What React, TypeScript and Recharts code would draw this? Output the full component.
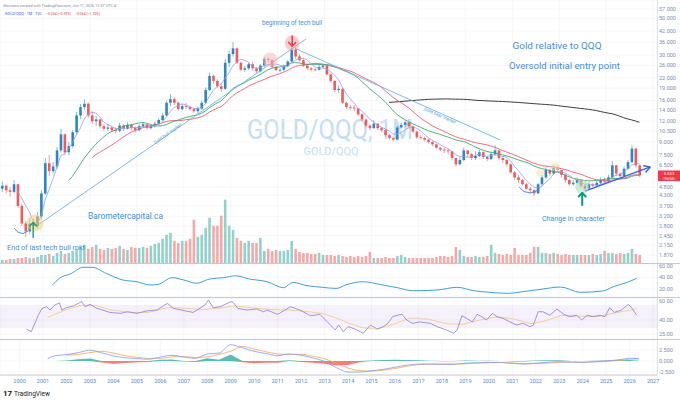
import React from "react";
import {
  ComposedChart,
  Bar,
  Line,
  Area,
  XAxis,
  YAxis,
  CartesianGrid,
  ReferenceLine,
  ReferenceDot,
  ReferenceArea,
  Cell,
} from "recharts";

// GOLD/QQQ, two-month candles. First slot = Mar-Apr 1999, last = May-Jun 2026.
const START = 1999 + 2 / 12;
const FIRST_OPEN = 4.7;

// closes, one row per year
const closes = [
  4.9, 4.6, 4.5, 5.0, 3.7,
  2.9, 2.6, 2.9, 2.8, 3.2, 4.4,
  6.7, 6.0, 6.4, 8.0, 10.0, 7.8,
  8.5, 10.3, 13.0, 14.6, 15.3, 13.0,
  12.0, 12.3, 11.2, 10.8, 11.0, 10.6,
  10.5, 11.3, 10.8, 11.4, 10.9, 10.6,
  11.2, 11.5, 10.9, 11.2, 11.6, 12.2,
  13.0, 15.5, 16.3, 15.5, 14.2, 14.8,
  14.6, 14.2, 13.8, 14.3, 15.5, 18.5,
  22.5, 21.0, 19.5, 18.8, 27.0, 30.5,
  33.0, 27.0, 24.5, 25.0, 26.5, 25.0,
  24.0, 26.0, 28.5, 28.0, 25.5, 24.4,
  24.5, 25.8, 27.5, 32.5, 29.5, 28.0,
  26.0, 25.0, 24.6, 24.5, 25.5, 26.0,
  23.0, 21.0, 18.5, 18.8, 15.5, 14.6,
  14.5, 14.3, 13.2, 12.3, 11.3, 10.9,
  11.6, 10.9, 10.6, 9.9, 9.5, 9.3,
  11.0, 11.4, 11.8, 11.2, 10.4, 9.6,
  9.5, 9.3, 9.0, 8.7, 8.3, 8.1,
  8.0, 7.9, 7.2, 6.6, 7.0, 8.0,
  7.6, 7.2, 7.4, 7.8, 7.3, 7.1,
  7.6, 8.0, 7.2, 7.0, 6.6, 5.9,
  5.5, 5.3, 5.0, 4.7, 4.6, 4.4,
  5.0, 5.5, 6.1, 5.8, 6.3, 6.1,
  5.7, 5.3, 5.0, 5.1, 5.3, 4.9,
  4.7, 5.0, 4.9, 5.1, 5.3, 5.2,
  5.5, 6.5, 5.8, 5.6, 6.2, 6.8,
  8.2, 6.5, 5.65,
];

const highs = [
  5.2, 5.0, 4.8, 5.3, 5.0,
  3.8, 3.0, 3.1, 3.1, 3.4, 4.6,
  7.2, 7.5, 6.8, 8.4, 10.8, 10.1,
  9.0, 10.6, 13.6, 15.2, 16.2, 15.6,
  13.8, 12.9, 12.4, 11.5, 11.6, 11.3,
  11.0, 11.7, 11.5, 11.8, 11.6, 11.1,
  11.5, 11.9, 11.6, 11.4, 11.9, 12.5,
  13.5, 16.0, 17.5, 16.8, 15.8, 15.2,
  15.5, 14.9, 14.5, 14.7, 16.0, 19.2,
  23.5, 23.0, 21.5, 20.0, 28.5, 32.0,
  36.0, 33.5, 27.5, 25.8, 27.3, 27.5,
  25.5, 26.5, 29.3, 29.0, 28.3, 25.8,
  25.0, 26.3, 28.0, 34.0, 33.5, 30.5,
  28.5, 26.2, 25.5, 25.2, 26.3, 26.5,
  26.2, 23.3, 21.2, 19.8, 19.0, 15.8,
  15.0, 15.0, 14.4, 13.4, 12.4, 11.5,
  12.2, 11.7, 11.1, 10.7, 10.1, 9.7,
  11.3, 11.8, 12.2, 12.0, 11.3, 10.5,
  9.9, 9.7, 9.4, 9.1, 8.8, 8.4,
  8.3, 8.2, 7.9, 7.2, 7.3, 8.3,
  8.0, 7.7, 7.9, 8.1, 7.9, 7.4,
  7.9, 8.6, 8.0, 7.4, 7.1, 6.7,
  6.0, 5.7, 5.4, 5.1, 4.8, 4.7,
  5.1, 5.7, 6.3, 6.2, 6.5, 6.5,
  6.1, 5.8, 5.4, 5.3, 5.5, 5.4,
  5.0, 5.2, 5.1, 5.3, 5.5, 5.5,
  5.7, 6.9, 6.5, 5.9, 6.4, 7.0,
  8.6, 8.3, 6.6,
];

const lows = [
  4.5, 4.4, 4.2, 4.4, 3.6,
  2.8, 2.4, 2.5, 2.7, 2.7, 3.1,
  4.3, 5.6, 5.8, 6.2, 7.8, 7.5,
  7.5, 8.3, 10.0, 12.4, 14.0, 12.6,
  11.6, 11.2, 10.9, 10.5, 10.5, 10.3,
  10.1, 10.3, 10.5, 10.7, 10.6, 10.3,
  10.4, 11.0, 10.7, 10.7, 11.0, 11.3,
  12.0, 12.8, 14.8, 15.0, 13.9, 14.0,
  14.2, 13.9, 13.5, 13.4, 14.0, 15.3,
  18.2, 20.2, 19.0, 18.0, 18.5, 25.5,
  29.5, 26.5, 24.0, 23.8, 24.5, 24.3,
  23.5, 23.6, 25.5, 27.0, 25.0, 24.0,
  23.8, 24.2, 25.5, 27.0, 28.5, 27.5,
  25.5, 24.5, 24.0, 24.0, 24.3, 25.0,
  22.6, 20.5, 18.0, 17.8, 15.2, 14.2,
  14.0, 13.8, 12.9, 12.0, 11.0, 10.6,
  10.8, 10.6, 10.3, 9.7, 9.3, 9.1,
  9.2, 10.8, 11.0, 11.0, 10.2, 9.4,
  9.3, 9.1, 8.8, 8.5, 8.2, 7.9,
  7.7, 7.6, 7.0, 6.4, 6.5, 6.9,
  7.3, 7.0, 7.0, 7.3, 7.1, 6.9,
  7.0, 7.4, 7.0, 6.7, 6.4, 5.8,
  5.3, 5.1, 4.9, 4.6, 4.4, 4.25,
  4.4, 4.9, 5.4, 5.6, 5.7, 5.9,
  5.5, 5.1, 4.9, 4.9, 5.0, 4.8,
  4.55, 4.6, 4.8, 4.8, 5.0, 5.0,
  5.1, 5.4, 5.6, 5.4, 5.5, 6.1,
  6.7, 6.3, 5.5,
];

// relative volume
const volumes = [
  3, 3, 4, 4, 5,
  5, 6, 5, 5, 6, 8,
  8, 9, 7, 10, 12, 9,
  10, 12, 14, 16, 18, 14,
  16, 18, 14, 13, 15, 14,
  15, 17, 14, 13, 16, 15,
  15, 16, 15, 17, 19, 20,
  24, 28, 30, 22, 20, 22,
  22, 24, 43, 26, 28, 35,
  45, 37, 37, 47, 63, 37,
  33, 25, 22, 20, 22, 20,
  20, 25, 12, 14, 12, 13,
  12, 12, 13, 22, 14, 11,
  10, 10, 9, 9, 10, 8,
  8, 8, 7, 8, 7, 6,
  7, 6, 7, 6, 7, 11,
  5, 5, 5, 6, 5, 5,
  7, 8, 6, 5, 5, 5,
  5, 5, 5, 5, 6, 7,
  7, 6, 7, 16, 13, 7,
  6, 6, 7, 6, 6, 7,
  18, 10, 9, 8, 9, 8,
  15, 8, 8, 8, 10, 16,
  16, 10, 10, 9, 10, 9,
  8, 9, 8, 8, 8, 8,
  8, 8, 9, 8, 9, 12,
  10, 10, 9, 10, 9, 10,
  14, 9, 8,
];

// upper oscillator pane
const oscYears = [
  2001.4, 2001.7, 2002.2, 2002.7, 2003.1, 2003.7, 2004.4, 2005.0, 2005.55, 2005.9,
  2006.5, 2007.0, 2007.55, 2008.1, 2008.7, 2009.2, 2009.8, 2010.55, 2011.25, 2011.65,
  2012.25, 2012.9, 2013.5, 2013.9, 2014.65, 2015.35, 2016.1, 2016.75, 2017.8, 2018.65,
  2019.35, 2020.05, 2020.8, 2021.45, 2022.3, 2023.05, 2023.9, 2024.85, 2025.3, 2025.9,
  2026.3,
];
const oscValues = [
  27, 38.6, 47, 57.7, 57.7, 47, 35.7, 32.7, 27, 28,
  39.7, 35.7, 30, 37.4, 39.7, 43, 37.4, 32.7, 22.3, 31.6,
  25.8, 23, 21, 27, 32.7, 28, 22.3, 17, 18.3, 23,
  17, 14.2, 12.5, 15.3, 20, 23.5, 14.2, 16.5, 24, 31.6,
  38.6,
];

// RSI pane
const rsiYears = [
  2000.3, 2000.5, 2000.65, 2000.8, 2000.95, 2001.15, 2001.3, 2001.5, 2001.7, 2001.8,
  2002.0, 2002.3, 2002.65, 2002.8, 2003.0, 2003.3, 2003.55, 2003.85, 2004.3, 2004.6,
  2005.0, 2005.4, 2005.85, 2006.3, 2006.55, 2006.9, 2007.4, 2007.9, 2008.05, 2008.25,
  2008.55, 2009.0, 2009.1, 2009.3, 2009.7, 2010.1, 2010.4, 2010.55, 2011.0, 2011.55,
  2011.95, 2012.4, 2012.8, 2013.25, 2013.45, 2013.6, 2013.8, 2014.0, 2014.3, 2014.65,
  2014.95, 2015.25, 2015.5, 2015.7, 2015.9, 2016.1, 2016.3, 2016.5, 2016.75, 2017.05,
  2017.5, 2017.8, 2018.2, 2018.5, 2018.65, 2018.85, 2019.05, 2019.3, 2019.5, 2019.7,
  2019.9, 2020.15, 2020.35, 2020.6, 2020.9, 2021.2, 2021.45, 2021.75, 2021.9, 2022.1,
  2022.3, 2022.6, 2022.9, 2023.2, 2023.45, 2023.75, 2023.95, 2024.2, 2024.45, 2024.75,
  2024.95, 2025.15, 2025.35, 2025.65, 2025.95, 2026.1, 2026.3,
];
const rsiValues = [
  30.5, 27.7, 36.5, 45, 52, 54, 50.5, 55.8, 58, 50.5,
  53, 55, 59.3, 54, 56.5, 52.3, 50.5, 48, 47, 48.7,
  47, 49.5, 50.5, 57.6, 52.3, 50.5, 48, 55.8, 61, 53,
  54, 59.3, 58.6, 52.3, 50.5, 51.6, 48.7, 50.5, 46, 54,
  50.5, 44.5, 46, 34.7, 29.5, 34.7, 27.7, 33, 30.5, 26,
  34.7, 30.5, 33, 36.5, 43.5, 45, 46, 40, 36.5, 38,
  36.5, 33, 29.5, 26, 29.5, 44.5, 41.8, 38, 46, 43.5,
  40, 47, 43.5, 41.8, 38, 34.7, 36.5, 33, 34.7, 48.7,
  48.7, 45, 51.6, 46, 43.5, 45, 40, 45, 43.5, 45,
  43.5, 53, 48, 50.5, 56.5, 52.3, 45,
];
const rsiSigYears = [
  2001.2, 2001.9, 2002.6, 2003.3, 2003.9, 2004.8, 2005.5, 2006.3, 2007.0, 2007.8,
  2008.5, 2009.2, 2010.0, 2010.8, 2011.5, 2012.2, 2012.9, 2013.4, 2014.0, 2014.6,
  2015.2, 2015.9, 2016.6, 2017.4, 2018.2, 2018.9, 2019.6, 2020.3, 2021.0, 2021.8,
  2022.4, 2023.1, 2023.9, 2024.7, 2025.4, 2026.3,
];
const rsiSigValues = [
  43, 50, 55.5, 55, 50.5, 48, 48, 53, 52.5, 51,
  52.5, 55, 52.5, 51, 50.5, 49, 47, 43, 37, 32,
  30.5, 35, 42, 41, 36, 35.5, 40, 43, 41.5, 36,
  39, 45, 44, 44, 47.5, 52,
];

// MACD pane, half-year steps
const macdYears = [
  2001.2, 2001.5, 2002, 2002.5, 2003, 2003.5, 2004, 2004.5, 2005, 2005.5,
  2006, 2006.5, 2007, 2007.5, 2008, 2008.5, 2009, 2009.5, 2010, 2010.5,
  2011, 2011.5, 2012, 2012.5, 2013, 2013.5, 2014, 2014.5, 2015, 2015.5,
  2016, 2016.5, 2017, 2017.5, 2018, 2018.5, 2019, 2019.5, 2020, 2020.5,
  2021, 2021.5, 2022, 2022.5, 2023, 2023.5, 2024, 2024.5, 2025, 2025.5,
  2026, 2026.4,
];
const macdValues = [
  0.5, 1.2, 1.45, 1.9, 2.45, 1.85, 1.15, 0.75, 0.55, 0.4,
  0.9, 1.3, 0.9, 0.6, 1.6, 1.8, 3.7, 3.0, 2.2, 1.7,
  1.2, 1.6, 1.3, 0.7, -0.1, -1.5, -2.5, -2.5, -2.2, -1.9,
  -1.4, -0.95, -0.7, -0.68, -0.75, -0.75, -0.5, -0.4, -0.3, -0.35,
  -0.55, -0.7, -0.5, -0.3, -0.15, -0.25, -0.3, -0.15, 0.0, 0.25,
  0.6, 0.55,
];
const macdSignal = [
  null, null, 1.35, 1.5, 1.9, 2.2, 1.8, 1.2, 0.85, 0.6,
  0.6, 0.95, 1.0, 0.8, 0.95, 1.5, 2.2, 3.3, 2.7, 2.1,
  1.6, 1.45, 1.5, 1.1, 0.5, -0.5, -1.6, -2.2, -2.3, -2.1,
  -1.7, -1.2, -0.85, -0.72, -0.7, -0.72, -0.62, -0.48, -0.38, -0.34,
  -0.45, -0.6, -0.6, -0.45, -0.3, -0.25, -0.3, -0.22, -0.1, 0.1,
  0.4, 0.5,
];

const years = [
  2000, 2001, 2002, 2003, 2004, 2005, 2006, 2007, 2008, 2009, 2010, 2011, 2012, 2013,
  2014, 2015, 2016, 2017, 2018, 2019, 2020, 2021, 2022, 2023, 2024, 2025, 2026, 2027,
];
const priceTicks = [
  1.87, 2.15, 2.45, 2.8, 3.2, 3.7, 4.3, 4.8, 6.5, 7.5, 9, 10.5, 12, 14, 16, 19, 22, 26,
  30, 36, 42, 50, 57,
];

const X_DOMAIN: [number, number] = [START, START + 28];
const UP = "#2b86c5";
const DOWN = "#ef5a5a";
const GRID = "#f0f2f7";
const AXIS_TEXT = "#7d8db0";
const NOTE = "#3d8fe0";
const FONT = "Roboto, 'Noto Sans', sans-serif";

function sma(src: number[], n: number) {
  return src.map((_, i) => {
    if (i < n - 1) return null;
    let s = 0;
    for (let k = i - n + 1; k <= i; k++) s += src[k];
    return s / n;
  });
}

const fast = sma(closes, 5);
const ma36 = sma(closes, 18);
const ma48 = sma(closes, 24);
const ma200 = sma(closes, 100);

const candles = closes.map((c, i) => {
  const o = i === 0 ? FIRST_OPEN : closes[i - 1];
  const hi = Math.max(highs[i], o, c);
  const lo = Math.min(lows[i], o, c);
  return {
    t: START + (i + 0.5) / 6,
    open: o,
    close: c,
    high: hi,
    low: lo,
    range: [lo, hi],
    vol: volumes[i],
    up: c >= o,
    fast: fast[i],
    ma36: ma36[i],
    ma48: ma48[i],
    ma200: ma200[i],
  };
});
const volMax = Math.max(...volumes);

const oscData = oscYears.map((t, i) => ({ t, v: oscValues[i] }));
const rsiData = [
  ...rsiYears.map((t, i) => ({ t, rsi: rsiValues[i] })),
  ...rsiSigYears.map((t, i) => ({ t, sig: rsiSigValues[i] })),
].sort((a, b) => a.t - b.t);
const macdData = macdYears.map((t, i) => {
  const s = macdSignal[i];
  const h = s == null ? 0 : macdValues[i] - s;
  return { t, macd: macdValues[i], sig: s, pos: Math.max(h, 0), neg: Math.min(h, 0) };
});

const renderCandle = (props: any) => {
  const { x, y, width, height, payload } = props;
  if (!payload || x == null || y == null) return <g />;
  const top = Math.min(y, y + height);
  const h = Math.abs(height);
  const lh = Math.log(payload.high);
  const ll = Math.log(payload.low);
  const span = lh - ll || 1;
  const yAt = (v: number) => top + ((lh - Math.log(v)) / span) * h;
  const color = payload.up ? UP : DOWN;
  const cx = x + width / 2;
  const yo = yAt(payload.open);
  const yc = yAt(payload.close);
  return (
    <g>
      <line x1={cx} x2={cx} y1={top} y2={top + h} stroke={color} strokeWidth={0.6} />
      <rect x={x} y={Math.min(yo, yc)} width={width} height={Math.max(Math.abs(yo - yc), 0.8)} fill={color} />
    </g>
  );
};

const arrow = (dir: "up" | "down", len: number, color: string, w: number) => (p: any) => {
  const { cx, cy } = p;
  const tip = dir === "up" ? cy - len / 2 : cy + len / 2;
  const back = dir === "up" ? 3.5 : -3.5;
  return (
    <g stroke={color} strokeWidth={w} fill="none" strokeLinecap="round" strokeLinejoin="round">
      <line x1={cx} y1={cy + (dir === "up" ? len / 2 : -len / 2)} x2={cx} y2={tip} />
      <polyline points={`${cx - 3.5},${tip + back} ${cx},${tip} ${cx + 3.5},${tip + back}`} />
    </g>
  );
};

const yTick = { fontSize: 5.5, fill: AXIS_TEXT, fontFamily: FONT };
const zero = { top: 0, right: 0, bottom: 0, left: 0 };

function PriceChart() {
  return (
    <ComposedChart width={680} height={263} data={candles} margin={zero}>
      <CartesianGrid xAxisId="p" yAxisId="p" stroke={GRID} strokeWidth={0.6} />
      <XAxis xAxisId="p" dataKey="t" type="number" domain={X_DOMAIN} ticks={years} allowDataOverflow hide />
      <XAxis xAxisId="v" dataKey="t" type="number" domain={X_DOMAIN} allowDataOverflow hide />
      <YAxis
        yAxisId="p"
        orientation="right"
        width={23}
        scale="log"
        domain={[1.675, 64.6]}
        allowDataOverflow
        ticks={priceTicks}
        interval={0}
        tickFormatter={(v: number) => v.toFixed(3)}
        tick={yTick}
        tickSize={0}
        tickMargin={2}
        axisLine={false}
        tickLine={false}
      />
      <YAxis yAxisId="v" hide domain={[0, volMax * 4.15]} />
      <Bar xAxisId="v" yAxisId="v" dataKey="vol" barSize={2.6} isAnimationActive={false}>
        {candles.map((c, i) => (
          <Cell key={i} fill={c.up ? "#26a69a" : "#ef5350"} fillOpacity={0.5} />
        ))}
      </Bar>
      <Line xAxisId="p" yAxisId="p" dataKey="ma200" stroke="#3b3b3b" strokeWidth={1} dot={false} isAnimationActive={false} />
      <Line xAxisId="p" yAxisId="p" dataKey="ma48" stroke="#ef5b6b" strokeWidth={0.9} dot={false} isAnimationActive={false} />
      <Line xAxisId="p" yAxisId="p" dataKey="ma36" stroke="#3fa672" strokeWidth={0.9} dot={false} isAnimationActive={false} />
      <Line xAxisId="p" yAxisId="p" dataKey="fast" stroke="#949cea" strokeWidth={0.8} dot={false} isAnimationActive={false} />
      <Bar xAxisId="p" yAxisId="p" dataKey="range" barSize={2.6} shape={renderCandle} isAnimationActive={false} />

      {/* drawings */}
      <ReferenceLine xAxisId="p" yAxisId="p" segment={[{ x: 2000.66, y: 2.76 }, { x: 2012.21, y: 37.6 }]} stroke="#5aa9e6" strokeWidth={0.8} />
      <ReferenceLine xAxisId="p" yAxisId="p" segment={[{ x: 2011.74, y: 33.0 }, { x: 2020.49, y: 9.24 }]} stroke="#5aa9e6" strokeWidth={0.8} />
      <ReferenceLine xAxisId="p" yAxisId="p" segment={[{ x: 2024.1, y: 4.55 }, { x: 2026.88, y: 6.36 }]} stroke="#3763e6" strokeWidth={1.4} />
      <ReferenceLine xAxisId="p" yAxisId="p" segment={[{ x: 2026.58, y: 6.46 }, { x: 2026.88, y: 6.36 }]} stroke="#3763e6" strokeWidth={1.4} />
      <ReferenceLine xAxisId="p" yAxisId="p" segment={[{ x: 2026.68, y: 5.89 }, { x: 2026.88, y: 6.36 }]} stroke="#3763e6" strokeWidth={1.4} />
      <ReferenceLine xAxisId="p" yAxisId="p" segment={[{ x: 1999.77, y: 2.72 }, { x: 1999.94, y: 2.56 }]} stroke="#3d7fe0" strokeWidth={0.9} />
      <ReferenceLine xAxisId="p" yAxisId="p" segment={[{ x: 1999.94, y: 2.56 }, { x: 2000.15, y: 2.52 }]} stroke="#3d7fe0" strokeWidth={0.9} />
      <ReferenceLine xAxisId="p" yAxisId="p" segment={[{ x: 2000.15, y: 2.52 }, { x: 2000.36, y: 2.61 }]} stroke="#3d7fe0" strokeWidth={0.9} />
      <ReferenceLine xAxisId="p" yAxisId="p" segment={[{ x: 2021.29, y: 4.81 }, { x: 2021.5, y: 4.52 }]} stroke="#3d7fe0" strokeWidth={0.9} />
      <ReferenceLine xAxisId="p" yAxisId="p" segment={[{ x: 2021.5, y: 4.52 }, { x: 2021.76, y: 4.43 }]} stroke="#3d7fe0" strokeWidth={0.9} />
      <ReferenceLine xAxisId="p" yAxisId="p" segment={[{ x: 2021.76, y: 4.43 }, { x: 2022.02, y: 4.55 }]} stroke="#3d7fe0" strokeWidth={0.9} />
      <ReferenceLine xAxisId="p" yAxisId="p" segment={[{ x: 2022.02, y: 4.55 }, { x: 2022.19, y: 4.75 }]} stroke="#3d7fe0" strokeWidth={0.9} />

      <ReferenceDot xAxisId="p" yAxisId="p" x={2000.66} y={2.92} r={8.5} fill="#f1d07a" fillOpacity={0.55} stroke="none" />
      <ReferenceDot xAxisId="p" yAxisId="p" x={2011.62} y={35.5} r={7.5} fill="#f5a6a6" fillOpacity={0.55} stroke="none" />
      <ReferenceDot xAxisId="p" yAxisId="p" x={2010.68} y={28.1} r={7.5} fill="#f5b3b3" fillOpacity={0.5} stroke="none" />
      <ReferenceDot xAxisId="p" yAxisId="p" x={2023.98} y={4.81} r={7} fill="#a8dcb8" fillOpacity={0.55} stroke="none" />
      <ReferenceDot xAxisId="p" yAxisId="p" x={2022.19} y={5.85} r={4} fill="#f4e1a0" fillOpacity={0.5} stroke="none" />
      <ReferenceDot xAxisId="p" yAxisId="p" x={2022.83} y={6.35} r={4} fill="#f4e1a0" fillOpacity={0.5} stroke="none" />
      <ReferenceDot xAxisId="p" yAxisId="p" x={2011.62} y={36.6} r={5} shape={arrow("down", 10, "#f23645", 1.5)} />
      <ReferenceDot xAxisId="p" yAxisId="p" x={2000.58} y={2.65} r={5} shape={arrow("up", 15, "#1e9e6a", 1.4)} />
      <ReferenceDot xAxisId="p" yAxisId="p" x={2023.98} y={4.07} r={5} shape={arrow("up", 12, "#089981", 2)} />
    </ComposedChart>
  );
}

function OscPane() {
  return (
    <ComposedChart width={680} height={33} data={oscData} margin={zero}>
      <CartesianGrid stroke={GRID} strokeWidth={0.6} />
      <XAxis dataKey="t" type="number" domain={X_DOMAIN} ticks={years} allowDataOverflow hide />
      <YAxis orientation="right" width={23} domain={[6.1, 63.5]} allowDataOverflow ticks={[20, 40, 60]} interval={0}
        tickFormatter={(v: number) => v.toFixed(2)} tick={yTick} tickSize={0} tickMargin={2} axisLine={false} tickLine={false} />
      <Line dataKey="v" type="monotone" stroke="#3e9fd6" strokeWidth={1} dot={false} isAnimationActive={false} />
    </ComposedChart>
  );
}

function RsiPane() {
  return (
    <ComposedChart width={680} height={41} data={rsiData} margin={zero}>
      <CartesianGrid stroke={GRID} strokeWidth={0.6} />
      <XAxis dataKey="t" type="number" domain={X_DOMAIN} ticks={years} allowDataOverflow hide />
      <YAxis orientation="right" width={23} domain={[20, 63.2]} allowDataOverflow ticks={[25, 40, 60]} interval={0}
        tickFormatter={(v: number) => v.toFixed(2)} tick={yTick} tickSize={0} tickMargin={2} axisLine={false} tickLine={false} />
      <ReferenceArea y1={31.6} y2={55.8} fill="#9575cd" fillOpacity={0.1} stroke="none" />
      <Line dataKey="sig" stroke="#f6c57f" strokeWidth={0.8} dot={false} connectNulls isAnimationActive={false} />
      <Line dataKey="rsi" stroke="#8c7bd8" strokeWidth={0.8} dot={false} connectNulls isAnimationActive={false} />
    </ComposedChart>
  );
}

function MacdPane() {
  return (
    <ComposedChart width={680} height={49} data={macdData} margin={zero}>
      <CartesianGrid stroke={GRID} strokeWidth={0.6} />
      <XAxis dataKey="t" type="number" domain={X_DOMAIN} ticks={years} interval={0} allowDataOverflow height={14}
        tickFormatter={(v: number) => String(v)} tick={{ fontSize: 5.5, fill: "#4f8bd6", fontFamily: FONT }}
        tickSize={0} tickMargin={4} axisLine={{ stroke: "#c8cbd3" }} tickLine={false} />
      <YAxis orientation="right" width={23} domain={[-3.18, 4.77]} allowDataOverflow ticks={[-2.5, 0, 2.5]} interval={0}
        tickFormatter={(v: number) => v.toFixed(3)} tick={yTick} tickSize={0} tickMargin={2} axisLine={false} tickLine={false} />
      <Area dataKey="pos" stroke="none" fill="#26a69a" fillOpacity={0.75} isAnimationActive={false} />
      <Area dataKey="neg" stroke="none" fill="#ef5350" fillOpacity={0.75} isAnimationActive={false} />
      <Line dataKey="sig" type="monotone" stroke="#f4a261" strokeWidth={0.8} dot={false} isAnimationActive={false} />
      <Line dataKey="macd" type="monotone" stroke="#7f9bef" strokeWidth={0.8} dot={false} isAnimationActive={false} />
    </ComposedChart>
  );
}

const abs = (top: number): React.CSSProperties => ({ position: "absolute", left: 0, top });

export default function App() {
  return (
    <div style={{ position: "absolute", left: 0, top: 0, width: 680, height: 403, background: "#fff", overflow: "hidden", fontFamily: FONT }}>
      <svg width={680} height={263} style={abs(0)}>
        <text x={330} y={139} textAnchor="middle" fontSize={27} fill="#c3dcf0" textLength={166} lengthAdjust="spacingAndGlyphs">GOLD/QQQ, 1M</text>
        <text x={331} y={155} textAnchor="middle" fontSize={10} fill="#c3dcf0" textLength={55} lengthAdjust="spacingAndGlyphs">GOLD/QQQ</text>
      </svg>
      <div style={abs(0)}><PriceChart /></div>
      <div style={abs(264)}><OscPane /></div>
      <div style={abs(298)}><RsiPane /></div>
      <div style={abs(340)}><MacdPane /></div>

      <div style={{ position: "absolute", left: 657, top: 0, width: 1, height: 375, background: "#e0e3eb" }} />
      <div style={{ position: "absolute", left: 0, top: 263, width: 680, height: 1, background: "#c5c8d0" }} />
      <div style={{ position: "absolute", left: 0, top: 297, width: 680, height: 1, background: "#c5c8d0" }} />
      <div style={{ position: "absolute", left: 0, top: 339, width: 680, height: 1, background: "#c5c8d0" }} />

      <svg width={680} height={403} style={{ ...abs(0), pointerEvents: "none" }} fontFamily={FONT}>
        <text x={3} y={6.5} fontSize={4.3} fill="#888" textLength={113} lengthAdjust="spacingAndGlyphs">
          dburrows created with TradingView.com, Jun 11, 2026 12:37 UTC-4
        </text>
        <text x={5} y={15} fontSize={4.3} fill="#2962ff" textLength={37} lengthAdjust="spacingAndGlyphs">GOLD/QQQ · 1M · TVC</text>
        <text x={46} y={15} fontSize={4.3} fill="#f23645" textLength={25} lengthAdjust="spacingAndGlyphs">−0.034 (−0.59%)</text>
        <text x={75} y={15} fontSize={4.3} fill="#f23645" textLength={25} lengthAdjust="spacingAndGlyphs">−0.064 (−1.10%)</text>

        <text x={292} y={24.5} textAnchor="middle" fontSize={6.3} fill={NOTE}>beginning of tech bull</text>
        <text x={557} y={48.5} textAnchor="middle" fontSize={9} fill={NOTE} textLength={89} lengthAdjust="spacingAndGlyphs">Gold relative to QQQ</text>
        <text x={564.5} y={68.5} textAnchor="middle" fontSize={9} fill={NOTE} textLength={111} lengthAdjust="spacingAndGlyphs">Oversold initial entry point</text>
        <text x={125.5} y={219} textAnchor="middle" fontSize={8.3} fill={NOTE} textLength={75} lengthAdjust="spacingAndGlyphs">Barometercapital.ca</text>
        <text x={46} y={250} textAnchor="middle" fontSize={7} fill={NOTE} textLength={78} lengthAdjust="spacingAndGlyphs">End of last tech bull mkt</text>
        <text x={573.5} y={220.5} textAnchor="middle" fontSize={7} fill={NOTE} textLength={63} lengthAdjust="spacingAndGlyphs">Change in character</text>
        <text x={168} y={135} textAnchor="middle" fontSize={4.5} fill="#4a9ae0" transform="rotate(-34.8 168 134)">Gold bull market</text>
        <text x={440} y={117} textAnchor="middle" fontSize={4.5} fill="#4a9ae0" transform="rotate(23.7 440 116)">Gold bear market</text>

        <rect x={658} y={170.5} width={22} height={10.5} fill="#f23645" />
        <text x={669} y={175} textAnchor="middle" fontSize={4.2} fill="#fff">5.653</text>
        <text x={669} y={179.6} textAnchor="middle" fontSize={3.4} fill="#fff">19d 04h</text>

        <text x={3} y={396} fontSize={8} fontWeight={700} fill="#131722">17</text>
        <text x={14} y={396} fontSize={7.5} fill="#131722" textLength={36} lengthAdjust="spacingAndGlyphs">TradingView</text>
      </svg>
    </div>
  );
}
